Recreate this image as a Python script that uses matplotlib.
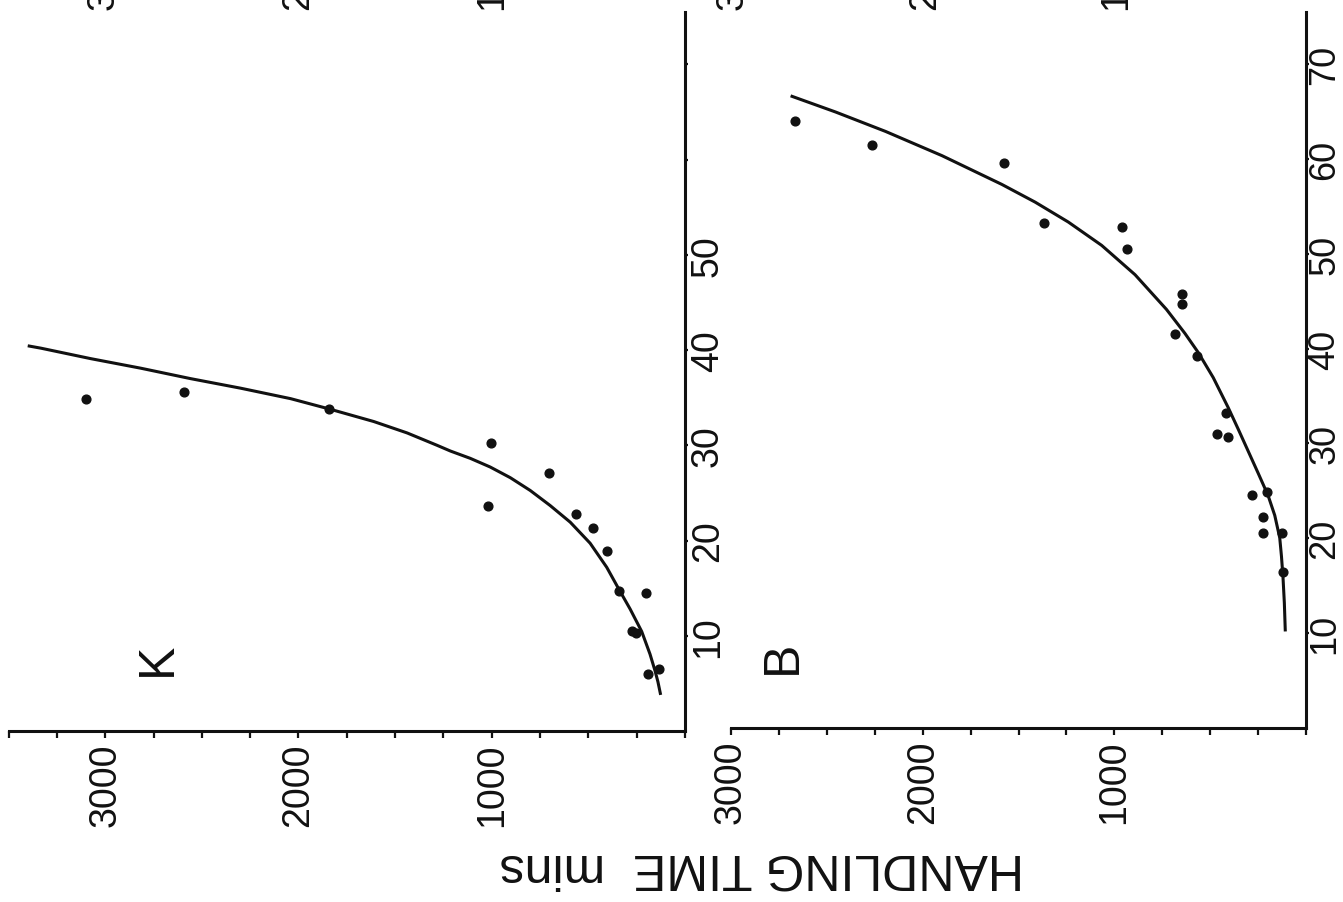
import matplotlib.pyplot as plt
from matplotlib.ticker import MultipleLocator

plt.rcParams['font.family'] = ['Liberation Sans', 'DejaVu Sans']

# Panel K: handling time (mins) against size
k_time = [3100, 2590, 1840, 1005, 1020, 705, 565, 475, 405, 340, 200, 275, 255, 190, 135]
k_size = [34.9, 35.6, 33.8, 30.2, 23.6, 27.1, 22.8, 21.3, 18.9, 14.7, 14.5, 10.5, 10.3, 6.0, 6.5]
k_curve_time = [3401, 3333, 3075, 2817, 2558, 2300, 2041, 1838, 1611, 1438, 1283, 1214,
                1111, 1008, 904, 801, 698, 594, 491, 405, 340, 284, 224, 181, 155, 140, 126]
k_curve_size = [40.45, 40.2, 39.1, 38.1, 37.0, 36.0, 34.9, 33.8, 32.5, 31.3, 30.0, 29.4,
                28.63, 27.72, 26.6, 25.26, 23.68, 21.93, 19.72, 17.19, 14.81, 12.81, 10.45,
                8.07, 6.32, 5.16, 3.79]

# Panel B
b_time = [2668, 2264, 1574, 1368, 960, 932, 647, 647, 684, 571, 420, 462, 405,
          281, 205, 226, 226, 127, 121]
b_size = [64.0, 61.5, 59.6, 53.3, 52.8, 50.5, 45.8, 44.7, 41.5, 39.2, 33.2, 31.0, 30.7,
          24.6, 24.9, 22.3, 20.6, 20.6, 16.5]
b_curve_time = [2689, 2455, 2194, 1899, 1587, 1413, 1240, 1066, 892, 728, 632, 562,
                484, 406, 354, 302, 250, 198, 163, 137, 128, 120, 113, 108]
b_curve_size = [66.66, 64.96, 62.91, 60.35, 57.32, 55.45, 53.35, 50.89, 47.8, 44.14, 41.62,
                39.59, 36.95, 33.79, 31.53, 29.21, 26.89, 24.53, 22.42, 20.05, 18.1, 15.89,
                13.2, 10.18]

time_ticks = [1000, 2000, 3000]
size_ticks = [10, 20, 30, 40, 50, 60, 70]
k_size_labels = ['10', '20', '30', '40', '50', '', '']
b_size_labels = ['10', '20', '30', '40', '50', '60', '70']

ink = '#111111'
W, H = 1343, 903
fig = plt.figure(figsize=(W / 100, H / 100), dpi=100)
fig.patch.set_facecolor('white')

# the page is scanned sideways: time runs right-to-left, size runs upward
axK = fig.add_axes([8.6 / W, 1 - 732 / H, (685 - 8.6) / W, (732 - 13) / H])
axB = fig.add_axes([731 / W, 1 - 729 / H, (1306 - 731) / W, (729 - 13) / H])

panels = [
    (axK, 3500, k_time, k_size, k_curve_time, k_curve_size, k_size_labels, 'K', 27, 1.0),
    (axB, 3000, b_time, b_size, b_curve_time, b_curve_size, b_size_labels, 'B', 26, -1.5),
]

for ax, tmax, t, s, ct, cs, slabels, name, ysize, ypad in panels:
    ax.plot(ct, cs, color=ink, lw=2.2, solid_joinstyle='round', solid_capstyle='butt')
    ax.plot(t, s, 'o', color=ink, ms=6.3, mec=ink)

    ax.set_xlim(tmax, 0)
    ax.set_ylim(0, 75.5)
    for side in ('top', 'left'):
        ax.spines[side].set_visible(False)
    for side in ('bottom', 'right'):
        ax.spines[side].set_linewidth(2.2)
        ax.spines[side].set_color(ink)

    ax.set_xticks(time_ticks)
    ax.set_xticklabels([str(v) for v in time_ticks])
    ax.xaxis.set_minor_locator(MultipleLocator(250))
    ax.yaxis.tick_right()
    ax.set_yticks(size_ticks)
    ax.set_yticklabels(slabels)

    ax.tick_params(which='both', direction='out', width=1.6, color=ink, labelcolor=ink)
    ax.tick_params(axis='x', which='both', length=5, labelsize=27, labelrotation=90, pad=3)
    ax.tick_params(axis='y', length=2.5, labelsize=ysize, labelrotation=90, pad=ypad)
    for lbl in ax.get_yticklabels():
        lbl.set_va('center')

    ax.text(2730, 7.6, name, rotation=90, ha='center', va='center',
            fontsize=36, color=ink)

fig.text(762 / W, 1 - 867 / H, 'HANDLING TIME  mins', rotation=180,
         ha='center', va='center', fontsize=36, color=ink)

# tails of the tick labels from the row above, cut off by the scan
top_labels = ['3000', '2000', '1000', '3000', '2000', '1000']
top_x = [104, 298, 492, 733, 925, 1116]
for x, lab in zip(top_x, top_labels):
    fig.text(x / W, 1 - 10 / H, lab, rotation=90, ha='center', va='bottom',
             fontsize=27, color=ink)

fig.savefig('out.png', dpi=100, facecolor='white')
